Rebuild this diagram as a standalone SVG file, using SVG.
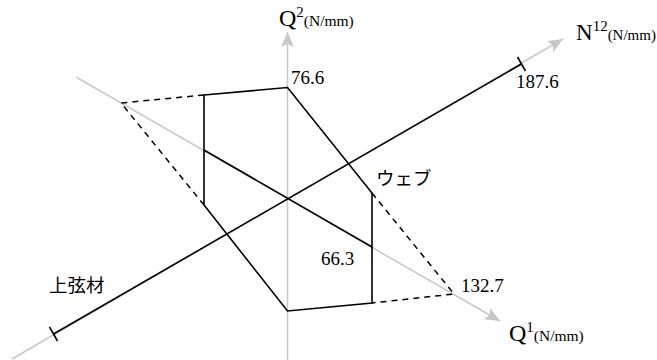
<svg xmlns="http://www.w3.org/2000/svg" width="657" height="360" viewBox="0 0 657 360">
<style>
.axis{stroke:#c8c8c8;stroke-width:1.5;fill:none}
.solid{stroke:#000;stroke-width:1.6;fill:none;stroke-linejoin:miter}
.dash{stroke:#000;stroke-width:1.5;fill:none;stroke-dasharray:6,5}
.num{font-family:"Liberation Serif","Times New Roman",serif;font-size:19px;fill:#000}
.lab{font-family:"Liberation Serif","Times New Roman",serif;fill:#000}
.jp{font-family:"Noto Sans CJK JP","Noto Sans",sans-serif;font-size:18.5px;fill:#000}
</style>
<defs>
<marker id="arr" markerUnits="userSpaceOnUse" markerWidth="16" markerHeight="14" refX="15" refY="7" orient="auto">
<path d="M0,0.5 L15,7 L0,13.5 L3,7 z" fill="#c8c8c8"/>
</marker>
</defs>
<g id="connectors">
<line id="axis-q2" class="axis" x1="287.5" y1="360" x2="287.5" y2="32" marker-end="url(#arr)"/>
<line id="axis-q1" class="axis" x1="76" y1="77" x2="500" y2="321" marker-end="url(#arr)"/>
<line id="axis-n12" class="axis" x1="12" y1="359" x2="563" y2="39" marker-end="url(#arr)"/>
<line id="n12-range" class="solid" x1="53.5" y1="334" x2="521.5" y2="64"/>
<line id="tick-top" class="solid" x1="517.5" y1="57" x2="525.5" y2="71"/>
<line id="tick-bot" class="solid" x1="49.5" y1="327" x2="57.5" y2="341"/>
<polygon id="web-polygon" class="solid" points="204,95 287.5,87.5 372,193 372,303 287.5,311 204,205"/>
<line id="q1-range" class="solid" x1="204" y1="150" x2="372" y2="247"/>
<polyline id="dash-left" class="dash" points="204,95 121,103 204,205"/>
<polyline id="dash-right" class="dash" points="372,193 454,294 372,303"/>
</g>
<g id="label-q2"><text class="lab" x="279" y="26" font-size="24">Q<tspan font-size="15" dy="-9">2</tspan><tspan font-size="15.5" dy="9">(N/mm)</tspan></text></g>
<g id="label-n12"><text class="lab" x="576" y="40" font-size="23">N<tspan font-size="15" dy="-9">12</tspan><tspan font-size="15" dy="9">(N/mm)</tspan></text></g>
<g id="label-q1"><text class="lab" x="509" y="341" font-size="24">Q<tspan font-size="15" dy="-9">1</tspan><tspan font-size="15.5" dy="9">(N/mm)</tspan></text></g>
<g id="val-766"><text class="num" x="291" y="84">76.6</text></g>
<g id="val-1876"><text class="num" x="516" y="88">187.6</text></g>
<g id="val-663"><text class="num" x="321" y="265">66.3</text></g>
<g id="val-1327"><text class="num" x="461" y="292">132.7</text></g>
<g id="label-web"><text class="jp" x="376" y="185">ウェブ</text></g>
<g id="label-chord"><text class="jp" x="49" y="292">上弦材</text></g>
</svg>
